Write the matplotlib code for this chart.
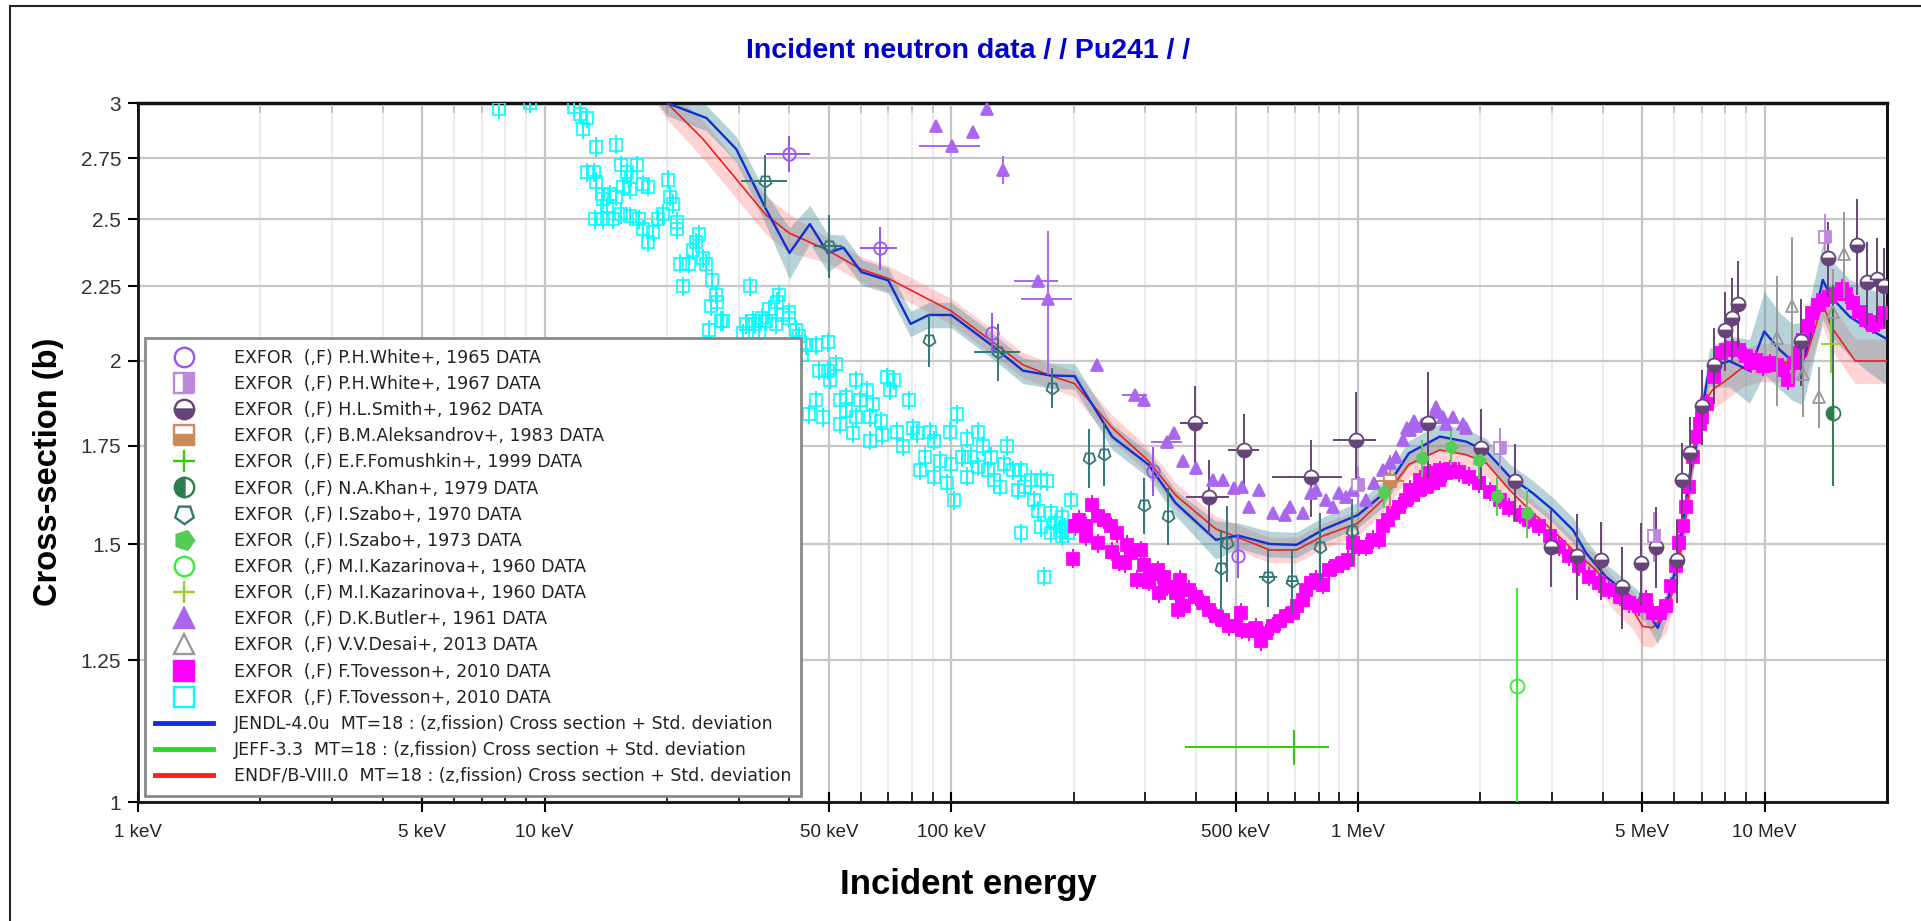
import matplotlib
matplotlib.use("Agg")
import matplotlib.pyplot as plt
from matplotlib.lines import Line2D
from matplotlib.ticker import FixedLocator, NullFormatter, NullLocator
from matplotlib import font_manager
import numpy as np

# Evaluated libraries (energy in keV, cross-section in b, relative std. deviation)
jendl_e = [19, 20, 25, 29.6, 35, 40, 44.9, 49.7, 54.3, 60.1, 70, 79.4, 88, 100, 125.7, 150, 175, 201,
           249, 305, 356, 447, 508, 607, 706, 824, 1000, 1145, 1334, 1590, 1845, 2070, 2360, 2690,
           3010, 3380, 3640, 4070, 4570, 5100, 5460, 5730, 6060, 6290, 6530, 6780, 6920, 7320,
           8190, 9180, 9980, 10900, 11700, 12400, 12900, 13900, 14600, 16200, 17700, 20000]
jendl_xs = [3.06, 3.0, 2.93, 2.79, 2.54, 2.37, 2.48, 2.37, 2.39, 2.30, 2.27, 2.12, 2.15, 2.15, 2.05, 1.97,
            1.955, 1.953, 1.775, 1.70, 1.60, 1.51, 1.52, 1.50, 1.498, 1.535, 1.57, 1.62, 1.73, 1.776,
            1.762, 1.735, 1.668, 1.625, 1.583, 1.533, 1.479, 1.425, 1.389, 1.353, 1.315, 1.36, 1.448,
            1.55, 1.668, 1.748, 1.813, 1.98, 2.0, 1.97, 2.095, 2.035, 2.0, 1.996, 2.07, 2.272, 2.21,
            2.144, 2.11, 2.07]
jendl_unc = [0.02, 0.02, 0.02, 0.02, 0.025, 0.04, 0.03, 0.03, 0.02, 0.02, 0.02, 0.02, 0.02, 0.02, 0.02,
             0.02, 0.02, 0.02, 0.02, 0.02, 0.02, 0.03, 0.02, 0.02, 0.02, 0.02, 0.02, 0.02, 0.02, 0.02,
             0.02, 0.02, 0.02, 0.02, 0.02, 0.02, 0.02, 0.02, 0.02, 0.02, 0.025, 0.02, 0.02, 0.02, 0.02,
             0.02, 0.02, 0.03, 0.04, 0.05, 0.065, 0.06, 0.06, 0.065, 0.06, 0.06, 0.06, 0.06, 0.065, 0.07]

endf_e = [19, 20, 24.5, 29, 35, 40, 49.7, 60, 70, 100, 126, 150, 175, 201, 249, 305, 356, 447, 525,
          607, 706, 824, 1000, 1145, 1334, 1590, 1845, 2070, 2360, 2690, 3010, 3380, 3850, 4230, 4740,
          5010, 5300, 5730, 6060, 6290, 6530, 6700, 6920, 7450, 8040, 8840, 9800, 11500, 12650, 13900,
          14600, 16700, 20000]
endf_xs = [3.06, 3.0, 2.835, 2.68, 2.516, 2.445, 2.38, 2.31, 2.277, 2.163, 2.062, 1.988, 1.955, 1.93,
           1.80, 1.71, 1.62, 1.536, 1.51, 1.486, 1.486, 1.52, 1.55, 1.606, 1.70, 1.739, 1.726, 1.703,
           1.633, 1.575, 1.533, 1.486, 1.44, 1.389, 1.353, 1.318, 1.315, 1.346, 1.418, 1.51, 1.625,
           1.75, 1.852, 1.912, 1.94, 1.98, 1.996, 1.996, 2.013, 2.19, 2.11, 2.0, 2.0]
endf_unc = [0.025, 0.025, 0.03, 0.03, 0.03, 0.03, 0.02, 0.02, 0.02, 0.02, 0.02, 0.02, 0.02, 0.02, 0.02,
            0.02, 0.02, 0.02, 0.02, 0.02, 0.02, 0.02, 0.02, 0.02, 0.02, 0.02, 0.02, 0.02, 0.02, 0.02,
            0.02, 0.02, 0.025, 0.025, 0.03, 0.03, 0.03, 0.03, 0.025, 0.025, 0.025, 0.025, 0.025, 0.03,
            0.03, 0.03, 0.03, 0.03, 0.03, 0.035, 0.035, 0.035, 0.035]

# EXFOR data sets (keV, b, dy, dx)
white65_e = [40, 66.6, 126, 313, 506]
white65_xs = [2.77, 2.387, 2.09, 1.682, 1.471]
white65_dy = [0.08, 0.08, 0.065, 0.065, 0.05]
white65_dx = [5, 7, 0, 0, 0]

white67_e = [1000, 2230, 5360, 14100]
white67_xs = [1.645, 1.744, 1.518, 2.43]
white67_dy = [0.05, 0.055, 0.06, 0.09]

smith_e = [397, 430, 525, 766, 990, 1490, 2010, 2440, 2990, 3450, 3970, 4460, 4980, 5410, 6080, 6270,
           6550, 7000, 7500, 8000, 8300, 8600, 12300, 14300, 16900, 17900, 18900, 19700]
smith_xs = [1.813, 1.616, 1.739, 1.666, 1.766, 1.815, 1.744, 1.656, 1.492, 1.473, 1.463, 1.403, 1.455,
            1.494, 1.463, 1.659, 1.73, 1.862, 1.988, 2.10, 2.139, 2.189, 2.063, 2.35, 2.40, 2.263,
            2.275, 2.25]
smith_dy = [0.11, 0.095, 0.10, 0.10, 0.14, 0.15, 0.11, 0.10, 0.09, 0.10, 0.09, 0.09, 0.095, 0.095,
            0.095, 0.10, 0.10, 0.11, 0.12, 0.13, 0.14, 0.15, 0.14, 0.14, 0.18, 0.15, 0.15, 0.14]
smith_dx = [32, 53, 47, 150, 120, 100, 0, 0, 0, 0, 0, 0, 0, 0, 0, 0, 0, 0, 0, 0, 0, 0, 0, 0, 0, 0, 0, 0]

aleks_e = [1200]
aleks_xs = [1.655]
aleks_dy = [0.07]
aleks_dx = [100]

fomush_e = [697]
fomush_xs = [1.09]
fomush_dy = [0.03]
fomush_dx = [[322], [153]]

khan_e = [14700]
khan_xs = [1.842]
khan_dy = [[0.2], [0.41]]

szabo70_e = [34.9, 50, 88, 130.6, 177, 218, 238, 298, 342, 461, 477, 601, 689, 808, 968]
szabo70_xs = [2.655, 2.397, 2.066, 2.029, 1.918, 1.717, 1.728, 1.595, 1.567, 1.444, 1.502, 1.424,
              1.416, 1.494, 1.53]
szabo70_dy = [0.11, 0.12, 0.085, 0.09, 0.06, 0.08, 0.085, 0.07, 0.07, 0.09, 0.09, 0.065, 0.07, 0.08, 0.08]
szabo70_dx = [4.5, 4, 0, 17, 0, 0, 0, 0, 0, 0, 0, 30, 25, 0, 0]

szabo73_e = [1160, 1440, 1690, 1990, 2200, 2600]
szabo73_xs = [1.628, 1.717, 1.748, 1.712, 1.618, 1.575]
szabo73_dy = [0.04, 0.05, 0.05, 0.05, 0.05, 0.06]

kaz_circ_e = [2460]
kaz_circ_xs = [1.2]
kaz_circ_dy = [[0.3], [0.2]]

kaz_plus_e = [14600]
kaz_plus_xs = [2.054]
kaz_plus_dy = [0.09]

butler_e = [91.9, 100.5, 113, 122.6, 134, 163, 173, 228, 283, 297, 340, 352, 371, 400, 440, 465, 496,
            520, 541, 572, 618, 660, 680, 733, 766, 789, 835, 867, 900, 935, 971, 1008, 1047, 1097,
            1150, 1200, 1240, 1290, 1320, 1340, 1370, 1390, 1440, 1470, 1550, 1560, 1620, 1650, 1710,
            1810, 1845]
butler_xs = [2.895, 2.802, 2.866, 2.974, 2.70, 2.268, 2.205, 1.988, 1.896, 1.88, 1.76, 1.785, 1.71,
             1.69, 1.66, 1.659, 1.637, 1.641, 1.59, 1.633, 1.575, 1.571, 1.59, 1.575, 1.625, 1.633,
             1.608, 1.59, 1.625, 1.616, 1.633, 1.65, 1.608, 1.65, 1.685, 1.703, 1.721, 1.766, 1.80,
             1.795, 1.82, 1.805, 1.81, 1.814, 1.847, 1.86, 1.83, 1.81, 1.83, 1.81, 1.80]
butler_dy = [0, 0, 0, 0, 0.06, 0, 0.25] + [0] * 44
butler_dx = [0, 17, 0, 0, 0, 20, 25, 0, 20, 0, 30] + [0] * 40

desai_e = [10700, 11700, 12400, 13600, 14700, 15700]
desai_xs = [2.074, 2.18, 1.96, 1.89, 2.16, 2.367]
desai_dy = [0.21, 0.25, 0.13, 0.09, 0.15, 0.16]

tov_fill_e = [199, 201, 206, 214, 222, 229, 238, 247, 256, 214, 229, 249, 271, 276, 293, 259, 268, 286,
              307, 298, 310, 322, 334, 325, 340, 357, 365, 361, 374, 385, 400, 415, 431, 448, 465, 483,
              501, 515, 520, 541, 562, 578, 595, 618, 642, 667, 691, 710, 733, 747, 766, 789, 819, 851,
              883, 918, 944, 971, 1008, 1047, 1087, 1129, 1150, 1183, 1217, 1264, 1313, 1363, 1416,
              1470, 1526, 1585, 1646, 1340, 1420, 1500, 1590, 1680, 1770, 1880, 1990, 2110, 2230, 2350,
              2500, 2640, 2790, 2960, 3130, 3310, 3500, 3700, 3920, 4150, 4400, 4650, 4920, 5110, 5310,
              5520, 5730, 5890, 6060, 6170, 6290, 6410, 6530, 6660, 6790, 6920, 7000, 7200, 7500, 7800,
              8050, 8350, 8650, 9000, 9250, 9500, 9900, 10300, 10700, 11100, 11400, 11800, 12100,
              12400, 12800, 13100, 13500, 13900, 14400, 15000, 15500, 15900, 16500, 17100, 17800,
              18500, 19100, 19700]
tov_fill_xs = [1.466, 1.542, 1.558, 1.542, 1.595, 1.567, 1.558, 1.542, 1.526, 1.518, 1.502, 1.482, 1.498,
               1.478, 1.486, 1.459, 1.455, 1.418, 1.414, 1.451, 1.432, 1.44, 1.425, 1.388, 1.403, 1.388,
               1.418, 1.353, 1.36, 1.396, 1.381, 1.367, 1.353, 1.339, 1.332, 1.318, 1.318, 1.346, 1.311,
               1.308, 1.315, 1.287, 1.304, 1.318, 1.329, 1.339, 1.346, 1.36, 1.374, 1.396, 1.411, 1.418,
               1.407, 1.44, 1.448, 1.455, 1.463, 1.502, 1.494, 1.494, 1.51, 1.51, 1.542, 1.558, 1.575,
               1.59, 1.608, 1.62, 1.633, 1.641, 1.65, 1.659, 1.676, 1.633, 1.659, 1.676, 1.685, 1.687,
               1.68, 1.667, 1.65, 1.629, 1.608, 1.588, 1.571, 1.558, 1.542, 1.518, 1.494, 1.471, 1.448,
               1.425, 1.411, 1.396, 1.381, 1.367, 1.36, 1.374, 1.346, 1.346, 1.36, 1.404, 1.448, 1.502,
               1.542, 1.59, 1.641, 1.72, 1.776, 1.81, 1.832, 1.87, 1.95, 2.025, 2.036, 2.04, 2.036,
               2.015, 1.993, 2.004, 1.983, 1.993, 1.988, 1.973, 1.941, 1.993, 2.025, 2.068, 2.112, 2.155,
               2.183, 2.2, 2.21, 2.222, 2.24, 2.222, 2.19, 2.16, 2.133, 2.117, 2.128, 2.155]

tov_open_e = [7.74, 9.2, 11.8, 12.2, 12.7, 12.4, 13.4, 15.0, 12.7, 13.2, 13.4, 13.8, 13.9, 14.2, 14.5,
              15.0, 15.4, 15.9, 16.3, 16.9, 15.6, 16.2, 17.5, 18.0, 13.3, 13.9, 14.7, 15.4, 16.2, 17.1,
              17.5, 18.0, 18.5, 19.0, 19.6, 20.1, 20.3, 20.7, 21.1, 21.1, 21.5, 21.9, 22.7, 23.1, 23.6,
              24.0, 24.5, 25.0, 25.8, 26.4, 26.6, 27.2, 31.9, 31.3, 32.5, 34.3, 35.7, 37.2, 37.8, 38.5,
              40.0, 41.5, 25.7, 27.5, 25.4, 33, 35, 37, 40, 30.7, 33.7, 42.3, 44, 46.5, 49.8, 43, 47.4,
              49.8, 52.2, 50.4, 46.5, 44.8, 48.3, 53.2, 55.2, 58.4, 61.9, 59.6, 64.3, 69.5, 72.2, 70.8,
              78.5, 55.2, 58.4, 63.1, 67, 53.2, 57.3, 63.1, 67.5, 73.5, 76.2, 80.7, 82.3, 88.8, 90.5,
              99.5, 103, 116, 109, 120, 137, 83.9, 90.5, 97.6, 101.5, 106, 109, 116, 123, 127, 132, 142,
              148, 157, 166, 172, 145.5, 160, 163, 176, 187, 166, 176, 187, 193.5, 197, 148, 169, 86,
              94, 100, 112, 125, 135, 152, 180, 190, 185]
tov_open_xs = [2.97, 3.0, 2.98, 2.95, 2.93, 2.88, 2.80, 2.81, 2.69, 2.69, 2.65, 2.60, 2.58, 2.55, 2.60,
               2.59, 2.72, 2.69, 2.67, 2.72, 2.63, 2.62, 2.64, 2.63, 2.50, 2.50, 2.50, 2.52, 2.51, 2.50,
               2.46, 2.41, 2.45, 2.50, 2.52, 2.66, 2.59, 2.56, 2.49, 2.46, 2.33, 2.25, 2.33, 2.38, 2.41,
               2.44, 2.35, 2.33, 2.27, 2.22, 2.195, 2.13, 2.25, 2.12, 2.13, 2.14, 2.17, 2.195, 2.22,
               2.15, 2.14, 2.10, 2.18, 2.13, 2.10, 2.12, 2.13, 2.12, 2.16, 2.09, 2.09, 2.08, 2.05, 2.05,
               2.06, 2.02, 1.97, 1.97, 1.99, 1.94, 1.88, 1.84, 1.83, 1.88, 1.89, 1.94, 1.91, 1.88, 1.87,
               1.95, 1.94, 1.91, 1.88, 1.85, 1.83, 1.83, 1.82, 1.81, 1.785, 1.765, 1.78, 1.79, 1.75,
               1.80, 1.785, 1.79, 1.765, 1.79, 1.84, 1.79, 1.77, 1.75, 1.75, 1.685, 1.667, 1.65, 1.607,
               1.72, 1.667, 1.694, 1.685, 1.659, 1.641, 1.685, 1.685, 1.659, 1.659, 1.655, 1.633, 1.607,
               1.58, 1.575, 1.566, 1.54, 1.526, 1.518, 1.526, 1.607, 1.526, 1.425, 1.72, 1.71, 1.70,
               1.72, 1.72, 1.70, 1.64, 1.55, 1.54, 1.53]
tov_rel_unc = 0.015

x_major = [1, 5, 10, 50, 100, 500, 1000, 5000, 10000]
x_labels = ["1 keV", "5 keV", "10 keV", "50 keV", "100 keV", "500 keV", "1 MeV", "5 MeV", "10 MeV"]
x_minor = [2, 3, 4, 6, 7, 8, 9, 20, 30, 40, 60, 70, 80, 90, 200, 300, 400, 600, 700, 800, 900,
           2000, 3000, 4000, 6000, 7000, 8000, 9000]
y_ticks = [1, 1.25, 1.5, 1.75, 2, 2.25, 2.5, 2.75, 3]
y_labels = ["1", "1.25", "1.5", "1.75", "2", "2.25", "2.5", "2.75", "3"]

fonts = {f.name for f in font_manager.fontManager.ttflist}
base = "Liberation Sans" if "Liberation Sans" in fonts else "DejaVu Sans"
plt.rcParams["font.family"] = [base, "DejaVu Sans"]

fig = plt.figure(figsize=(19.21, 9.21), dpi=100)
ax = fig.add_axes([138 / 1921, 119 / 921, 1749 / 1921, 699 / 921])
ax.set_xscale("log")
ax.set_yscale("log")

# uncertainty bands and evaluated curves
ee, ex, eu = np.array(endf_e), np.array(endf_xs), np.array(endf_unc)
je, jx, ju = np.array(jendl_e), np.array(jendl_xs), np.array(jendl_unc)
ax.fill_between(ee, ex * (1 - eu), ex * (1 + eu), color="#ff7070", alpha=0.3, lw=0, zorder=2)
ax.fill_between(je, jx * (1 - ju), jx * (1 + ju), color="#4f90a0", alpha=0.4, lw=0, zorder=2)
ax.plot(ee, ex, color="#ee2020", lw=1.2, zorder=3)
ax.plot(je, jx, color="#1030d0", lw=1.7, zorder=3)


def exfor(x, y, dy, dx, color, marker, ms, mfc="none", alt="white", fill="full", mew=1.3, z=5):
    ax.errorbar(x, y, yerr=dy, xerr=dx, fmt="", ls="none", marker=marker, ms=ms, mec=color,
                mfc=mfc, mew=mew, fillstyle=fill, markerfacecoloralt=alt, ecolor=color,
                elinewidth=1.4, capsize=0, zorder=z)


c_white65, c_white67, c_smith, c_aleks = "#9955ee", "#bb88dd", "#664477", "#cc8855"
c_fomush, c_khan, c_sz70, c_sz73 = "#33cc00", "#2e7d4f", "#337777", "#55cc55"
c_kazc, c_kazp, c_butler, c_desai = "#33ee33", "#99cc33", "#aa66ee", "#999999"
c_tfill, c_topen = "#ff00ff", "#00ffff"

tox = np.array(tov_open_xs)
exfor(tov_open_e, tox, tox * tov_rel_unc, None, c_topen, "s", 8.5, mew=1.2, z=4)
tfx = np.array(tov_fill_xs)
exfor(tov_fill_e, tfx, tfx * tov_rel_unc, None, c_tfill, "s", 8, mfc=c_tfill, z=4)
exfor(butler_e, butler_xs, butler_dy, butler_dx, c_butler, "^", 9, mfc=c_butler)
exfor(szabo70_e, szabo70_xs, szabo70_dy, szabo70_dx, c_sz70, (5, 0, 180), 9)
exfor(white65_e, white65_xs, white65_dy, white65_dx, c_white65, "o", 9)
exfor(smith_e, smith_xs, smith_dy, smith_dx, c_smith, "o", 10, mfc=c_smith, fill="bottom")
exfor(white67_e, white67_xs, white67_dy, None, c_white67, "s", 9, mfc=c_white67, fill="right")
exfor(aleks_e, aleks_xs, aleks_dy, aleks_dx, c_aleks, "s", 9, mfc=c_aleks, fill="bottom")
exfor(fomush_e, fomush_xs, fomush_dy, fomush_dx, c_fomush, "+", 12)
exfor(szabo73_e, szabo73_xs, szabo73_dy, None, c_sz73, (5, 0, -90), 9, mfc=c_sz73)
exfor(kaz_circ_e, kaz_circ_xs, kaz_circ_dy, None, c_kazc, "o", 10)
exfor(desai_e, desai_xs, desai_dy, None, c_desai, "^", 9)
exfor(kaz_plus_e, kaz_plus_xs, kaz_plus_dy, None, c_kazp, "+", 14)
exfor(khan_e, khan_xs, khan_dy, None, c_khan, "o", 10, mfc=c_khan, fill="left")

ax.set_xlim(1, 20000)
ax.set_ylim(1, 3)

# ticks and grid
ax.xaxis.set_major_locator(FixedLocator(x_major))
ax.xaxis.set_minor_locator(FixedLocator(x_minor))
ax.set_xticklabels(x_labels)
ax.xaxis.set_minor_formatter(NullFormatter())
ax.yaxis.set_major_locator(FixedLocator(y_ticks))
ax.yaxis.set_minor_locator(NullLocator())
ax.set_yticklabels(y_labels)
ax.tick_params(axis="x", which="major", direction="inout", length=15, width=1.5,
               labelsize=13.5, pad=8, labelcolor="#222222")
ax.tick_params(axis="x", which="minor", direction="in", length=7, width=1.2)
ax.tick_params(axis="y", which="major", direction="out", length=7, width=1.5,
               labelsize=15, pad=5, labelcolor="#333333")
ax.grid(which="major", axis="x", color="#c4c4c4", lw=1.6)
ax.grid(which="minor", axis="x", color="#e8e8e8", lw=1.2)
ax.grid(which="major", axis="y", color="#c8c8c8", lw=1.6)
ax.set_axisbelow(True)
for s in ax.spines.values():
    s.set_linewidth(2)
    s.set_color("#111111")

top = ax.secondary_xaxis("top")
top.xaxis.set_major_locator(FixedLocator(x_major))
top.xaxis.set_minor_locator(FixedLocator(x_minor))
top.xaxis.set_major_formatter(NullFormatter())
top.xaxis.set_minor_formatter(NullFormatter())
top.tick_params(which="both", direction="in", length=7, width=1.3)
top.spines["top"].set_linewidth(2.5)

right = ax.secondary_yaxis("right")
right.yaxis.set_major_locator(FixedLocator(y_ticks))
right.yaxis.set_minor_locator(NullLocator())
right.yaxis.set_major_formatter(NullFormatter())
right.tick_params(which="major", direction="in", length=7, width=1.3)
right.spines["right"].set_linewidth(2)


# legend
def mk(color, marker, mfc="none", fill="full", ms=14):
    return Line2D([], [], ls="none", marker=marker, ms=ms, mec=color, mfc=mfc, mew=1.7,
                  fillstyle=fill, markerfacecoloralt="white")


handles = [
    mk(c_white65, "o"),
    mk(c_white67, "s", c_white67, "right"),
    mk(c_smith, "o", c_smith, "bottom"),
    mk(c_aleks, "s", c_aleks, "bottom"),
    mk(c_fomush, "+", ms=16),
    mk(c_khan, "o", c_khan, "left"),
    mk(c_sz70, (5, 0, 180)),
    mk(c_sz73, (5, 0, -90), c_sz73),
    mk(c_kazc, "o"),
    mk(c_kazp, "+", ms=16),
    mk(c_butler, "^", c_butler),
    mk(c_desai, "^"),
    mk(c_tfill, "s", c_tfill),
    mk(c_topen, "s"),
    Line2D([], [], color="#1030e0", lw=3.5),
    Line2D([], [], color="#22dd22", lw=3.5),
    Line2D([], [], color="#ff2020", lw=3.5),
]
labels = [
    "EXFOR  (,F) P.H.White+, 1965 DATA",
    "EXFOR  (,F) P.H.White+, 1967 DATA",
    "EXFOR  (,F) H.L.Smith+, 1962 DATA",
    "EXFOR  (,F) B.M.Aleksandrov+, 1983 DATA",
    "EXFOR  (,F) E.F.Fomushkin+, 1999 DATA",
    "EXFOR  (,F) N.A.Khan+, 1979 DATA",
    "EXFOR  (,F) I.Szabo+, 1970 DATA",
    "EXFOR  (,F) I.Szabo+, 1973 DATA",
    "EXFOR  (,F) M.I.Kazarinova+, 1960 DATA",
    "EXFOR  (,F) M.I.Kazarinova+, 1960 DATA",
    "EXFOR  (,F) D.K.Butler+, 1961 DATA",
    "EXFOR  (,F) V.V.Desai+, 2013 DATA",
    "EXFOR  (,F) F.Tovesson+, 2010 DATA",
    "EXFOR  (,F) F.Tovesson+, 2010 DATA",
    "JENDL-4.0u  MT=18 : (z,fission) Cross section + Std. deviation",
    "JEFF-3.3  MT=18 : (z,fission) Cross section + Std. deviation",
    "ENDF/B-VIII.0  MT=18 : (z,fission) Cross section + Std. deviation",
]
leg = ax.legend(handles, labels, loc="lower left", bbox_to_anchor=(0.004, 0.009),
                prop={"family": "DejaVu Sans", "size": 12.5},
                frameon=True, fancybox=False, framealpha=1, edgecolor="#888888",
                handlelength=3.3, handletextpad=1.2, labelspacing=0.47, borderpad=0.6,
                borderaxespad=0)
leg.get_frame().set_linewidth(2)
leg.set_zorder(10)
for t in leg.get_texts():
    t.set_color("#222222")

# titles
fig.text(0.504, 1 - 51 / 921, "Incident neutron data / / Pu241 / /", color="#0000cc",
         fontsize=20.5, fontweight="bold", ha="center", va="center")
fig.text(49 / 1921, 1 - 472 / 921, "Cross-section (b)", rotation=90, fontsize=23.5,
         fontweight="bold", ha="center", va="center")
fig.text(968 / 1921, 1 - 884 / 921, "Incident energy", fontsize=25, fontweight="bold",
         ha="center", va="center")

# outer frame
fig.add_artist(Line2D([10 / 1921, 10 / 1921], [0, 1 - 6 / 921], transform=fig.transFigure,
                      color="#222222", lw=1.5))
fig.add_artist(Line2D([10 / 1921, 1], [1 - 6 / 921, 1 - 6 / 921], transform=fig.transFigure,
                      color="#222222", lw=1.5))

fig.savefig("out.png", dpi=100)
